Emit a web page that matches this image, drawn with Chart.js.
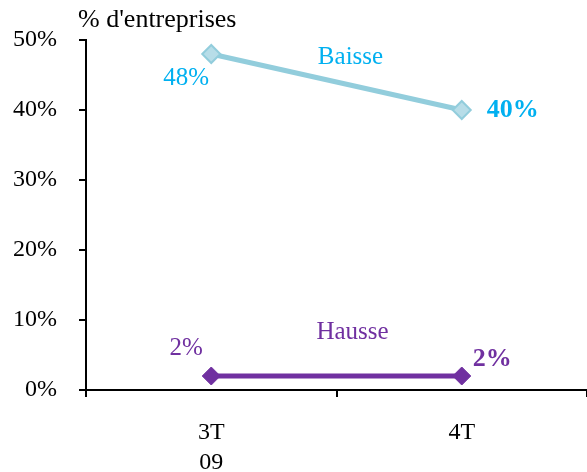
<!DOCTYPE html>
<html><head><meta charset="utf-8">
<script src="https://cdn.jsdelivr.net/npm/chart.js@4"></script>
<style>html,body{margin:0;padding:0;background:#fff;}#wrap{width:587px;height:472px;}</style>
</head><body><div id="wrap"><canvas id="c" width="587" height="472"></canvas></div>
<script>
const categories = [["3T","09"], "4T"];
const baisse = [48, 40];
const hausse = [2, 2];
const yTicks = [0, 10, 20, 30, 40, 50];
const seriesNames = ["Baisse", "Hausse"];
const axisTitle = "% d'entreprises";

const FONT = "'Liberation Serif', 'Times New Roman', serif";

const labelsPlugin = {
  id: 'labels',
  afterDatasetsDraw(chart) {
    const ctx = chart.ctx, x = chart.scales.x, y = chart.scales.y;
    ctx.save();
    ctx.textBaseline = 'middle';
    // axis title
    ctx.fillStyle = '#000';
    ctx.font = "26px " + FONT;
    ctx.textAlign = 'left';
    ctx.fillText(axisTitle, 78, 20);
    const x0 = x.getPixelForValue(0), x1 = x.getPixelForValue(1), xm = (x0 + x1) / 2;
    // Baisse
    ctx.textAlign = 'center';
    ctx.fillStyle = '#00B0F0';
    ctx.font = "25px " + FONT;
    ctx.fillText(baisse[0] + '%', x0 - 25, y.getPixelForValue(baisse[0]) + 24);
    ctx.fillText(seriesNames[0], xm + 14, y.getPixelForValue(baisse[0]) + 3);
    ctx.font = "bold 26px " + FONT;
    ctx.textAlign = 'left';
    ctx.fillText(baisse[1] + '%', x1 + 25, y.getPixelForValue(baisse[1]));
    // Hausse
    ctx.fillStyle = '#7030A0';
    ctx.textAlign = 'center';
    ctx.font = "25px " + FONT;
    ctx.fillText(hausse[0] + '%', x0 - 25, y.getPixelForValue(hausse[0]) - 28);
    ctx.fillText(seriesNames[1], xm + 16, y.getPixelForValue(hausse[0]) - 44);
    ctx.font = "bold 26px " + FONT;
    ctx.textAlign = 'left';
    ctx.fillText(hausse[1] + '%', x1 + 11, y.getPixelForValue(hausse[1]) - 17);
    ctx.restore();
  }
};

new Chart(document.getElementById('c'), {
  type: 'line',
  data: {
    labels: categories,
    datasets: [
      { label: seriesNames[0], data: baisse, borderColor: '#92CDDC', borderWidth: 5,
        pointStyle: 'rectRot', pointRadius: 9, pointBackgroundColor: '#B7DDE8',
        pointBorderColor: '#92CDDC', pointBorderWidth: 2, tension: 0 },
      { label: seriesNames[1], data: hausse, borderColor: '#7030A0', borderWidth: 5,
        pointStyle: 'rectRot', pointRadius: 9, pointBackgroundColor: '#7030A0',
        pointBorderColor: '#7030A0', pointBorderWidth: 1, tension: 0 }
    ]
  },
  options: {
    responsive: false, animation: false, devicePixelRatio: 1,
    layout: { autoPadding: false, padding: { top: 40, right: 0, left: 0, bottom: 0 } },
    plugins: { legend: { display: false }, tooltip: { enabled: false } },
    scales: {
      x: {
        offset: true,
        grid: { display: true, drawOnChartArea: false, drawTicks: true, tickLength: 7, color: '#000', lineWidth: 2, offset: true },
        border: { display: true, color: '#000', width: 2 },
        ticks: { color: '#000', font: { family: FONT, size: 24, lineHeight: 1.25 }, padding: 21, maxRotation: 0, autoSkip: false },
        afterFit(s) { s.height = 82; s.paddingLeft = 0; s.paddingRight = 0; }
      },
      y: {
        min: 0, max: 50,
        afterBuildTicks(s) { s.ticks = yTicks.map(v => ({ value: v })); },
        grid: { display: true, drawOnChartArea: false, drawTicks: true, tickLength: 7, color: '#000', lineWidth: 2 },
        border: { display: true, color: '#000', width: 2 },
        ticks: { color: '#000', font: { family: FONT, size: 24 }, padding: 22, callback: v => v + '%' },
        afterFit(s) { s.width = 86; s.paddingTop = 0; s.paddingBottom = 0; }
      }
    }
  },
  plugins: [labelsPlugin]
});
</script></body></html>
